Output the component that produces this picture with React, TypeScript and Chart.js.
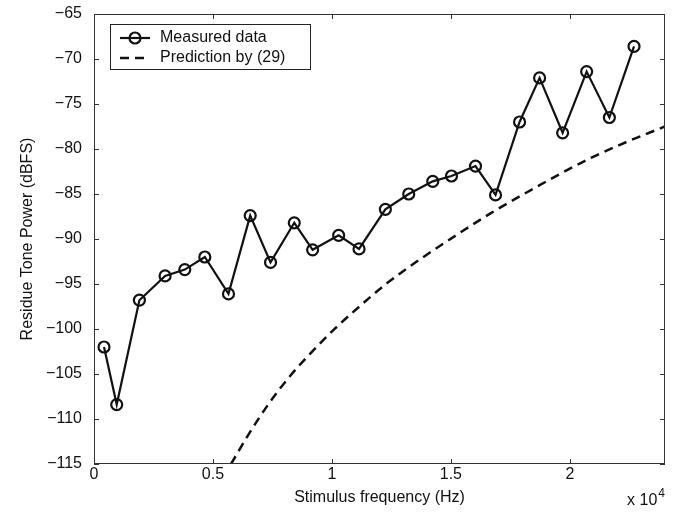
import React, { useEffect, useRef } from "react";
import { Chart, registerables } from "chart.js";

Chart.register(...registerables);

// ---- data ----
const measuredFreqHz = [421, 955, 1908, 2988, 3816, 4658, 5653, 6566, 7420, 8418, 9189, 10283, 11140, 12247, 13229, 14238, 15025, 16035, 16877, 17887, 18729, 19697, 20707, 21662, 22698];
const measuredDb = [-102.0, -108.4, -96.8, -94.1, -93.4, -92.0, -96.1, -87.4, -92.6, -88.2, -91.2, -89.6, -91.1, -86.7, -85.0, -83.6, -83.0, -81.9, -85.1, -77.0, -72.1, -78.2, -71.4, -76.5, -68.6];
const predictionFreqHz = [5760, 6500, 7400, 8250, 9100, 10070, 11200, 12320, 13790, 15270, 16700, 18070, 19500, 20875, 22400, 24000];
const predictionDb = [-115.0, -111.7, -108.1, -105.2, -102.7, -100.1, -97.4, -94.9, -92.1, -89.5, -87.1, -85.0, -82.9, -81.0, -79.2, -77.5];

const xTickValues = [0, 5000, 10000, 15000, 20000];
const xTickLabels = ["0", "0.5", "1", "1.5", "2"];
const yTickValues = [-115, -110, -105, -100, -95, -90, -85, -80, -75, -70, -65];

const seriesLabels = ["Measured data", "Prediction by (29)"];
const xTitle = "Stimulus frequency (Hz)";
const yTitle = "Residue Tone Power (dBFS)";
const exponentBase = "x 10";
const exponentPower = "4";

const FONT = "'Liberation Sans', Arial, Helvetica, sans-serif";
const INK = "#111";

const fmtMinus = (v: number) => String(v).replace("-", "\u2212");

const framePlugin = {
  id: "matlabFrame",
  afterDraw(chart: any) {
    const { ctx, chartArea } = chart;
    const { left, right, top, bottom } = chartArea;
    const xs = chart.scales.x;
    const ys = chart.scales.y;
    ctx.save();
    // box
    ctx.strokeStyle = "#333";
    ctx.lineWidth = 1;
    ctx.strokeRect(Math.round(left) + 0.5, Math.round(top) + 0.5, Math.round(right - left) - 1, Math.round(bottom - top) - 1);
    // inward ticks
    const tl = 5;
    ctx.beginPath();
    xTickValues.forEach((v) => {
      const px = Math.round(xs.getPixelForValue(v)) + 0.5;
      ctx.moveTo(px, bottom);
      ctx.lineTo(px, bottom - tl);
      ctx.moveTo(px, top);
      ctx.lineTo(px, top + tl);
    });
    yTickValues.forEach((v) => {
      const py = Math.round(ys.getPixelForValue(v)) + 0.5;
      ctx.moveTo(left, py);
      ctx.lineTo(left + tl, py);
      ctx.moveTo(right, py);
      ctx.lineTo(right - tl, py);
    });
    ctx.stroke();

    // legend
    const lx = left + 16;
    const ly = top + 10;
    const lw = 200;
    const lh = 45;
    ctx.fillStyle = "#fff";
    ctx.fillRect(lx, ly, lw, lh);
    ctx.strokeStyle = "#222";
    ctx.lineWidth = 1;
    ctx.strokeRect(Math.round(lx) + 0.5, Math.round(ly) + 0.5, lw, lh);
    const rows = [ly + 14, ly + 34];
    chart.data.datasets.forEach((ds: any, i: number) => {
      const yy = rows[i];
      ctx.strokeStyle = ds.borderColor;
      ctx.lineWidth = ds.borderWidth;
      ctx.setLineDash(ds.borderDash || []);
      ctx.beginPath();
      ctx.moveTo(lx + 10, yy);
      ctx.lineTo(lx + 40, yy);
      ctx.stroke();
      ctx.setLineDash([]);
      if (ds.pointRadius > 0) {
        ctx.lineWidth = ds.pointBorderWidth;
        ctx.beginPath();
        ctx.arc(lx + 25, yy, ds.pointRadius, 0, Math.PI * 2);
        ctx.stroke();
      }
      ctx.fillStyle = INK;
      ctx.font = `16px ${FONT}`;
      ctx.textAlign = "left";
      ctx.textBaseline = "middle";
      ctx.fillText(ds.label, lx + 50, yy);
    });

    // exponent label
    ctx.fillStyle = INK;
    ctx.textBaseline = "alphabetic";
    ctx.textAlign = "left";
    ctx.font = `16px ${FONT}`;
    const baseW = ctx.measureText(exponentBase).width;
    ctx.font = `12px ${FONT}`;
    const powW = ctx.measureText(exponentPower).width;
    const startX = right - baseW - powW - 1;
    ctx.font = `16px ${FONT}`;
    ctx.fillText(exponentBase, startX, 505);
    ctx.font = `12px ${FONT}`;
    ctx.fillText(exponentPower, startX + baseW + 1, 497);
    ctx.restore();
  },
};

export default function App() {
  const ref = useRef<HTMLCanvasElement | null>(null);

  useEffect(() => {
    if (!ref.current) return;
    const chart = new Chart(ref.current, {
      type: "line",
      data: {
        datasets: [
          {
            label: seriesLabels[0],
            data: measuredFreqHz.map((x, i) => ({ x, y: measuredDb[i] })),
            borderColor: INK,
            borderWidth: 2.2,
            pointRadius: 5.5,
            pointBorderWidth: 2.2,
            pointBorderColor: INK,
            pointBackgroundColor: "rgba(0,0,0,0)",
            pointStyle: "circle",
            tension: 0,
            fill: false,
          },
          {
            label: seriesLabels[1],
            data: predictionFreqHz.map((x, i) => ({ x, y: predictionDb[i] })),
            borderColor: INK,
            borderWidth: 2.5,
            borderDash: [9, 6],
            pointRadius: 0,
            cubicInterpolationMode: "monotone",
            fill: false,
          },
        ],
      },
      options: {
        responsive: false,
        animation: false,
        events: [],
        layout: { padding: { left: 0, right: 23, top: 14, bottom: 0 } },
        plugins: {
          legend: { display: false },
          tooltip: { enabled: false },
        },
        scales: {
          x: {
            type: "linear",
            min: 0,
            max: 24000,
            afterBuildTicks: (s: any) => {
              s.ticks = xTickValues.map((value) => ({ value }));
            },
            afterFit: (s: any) => {
              s.height = 53;
              s.paddingLeft = 0;
              s.paddingRight = 0;
            },
            ticks: {
              color: INK,
              font: { family: FONT, size: 16 },
              padding: 1,
              maxRotation: 0,
              autoSkip: false,
              callback: (v: any) => {
                const idx = xTickValues.indexOf(Number(v));
                return idx >= 0 ? xTickLabels[idx] : "";
              },
            },
            grid: { display: false, drawTicks: false },
            border: { display: false },
            title: {
              display: true,
              text: xTitle,
              color: INK,
              font: { family: FONT, size: 16 },
              padding: { top: 0, bottom: 10 },
            },
          },
          y: {
            type: "linear",
            min: -115,
            max: -65,
            afterBuildTicks: (s: any) => {
              s.ticks = yTickValues.map((value) => ({ value }));
            },
            afterFit: (s: any) => {
              s.width = 94;
              s.paddingTop = 0;
              s.paddingBottom = 0;
            },
            ticks: {
              color: INK,
              font: { family: FONT, size: 16 },
              padding: 12,
              autoSkip: false,
              callback: (v: any) => fmtMinus(Number(v)),
            },
            grid: { display: false, drawTicks: false },
            border: { display: false },
            title: {
              display: true,
              text: yTitle,
              color: INK,
              font: { family: FONT, size: 16 },
              padding: { top: 18, bottom: 0 },
            },
          },
        },
      },
      plugins: [framePlugin],
    } as any);
    return () => chart.destroy();
  }, []);

  return (
    <div style={{ position: "absolute", left: 0, top: 0, width: 688, height: 517, background: "#fff" }}>
      <canvas ref={ref} width={688} height={517} style={{ display: "block" }} />
    </div>
  );
}
